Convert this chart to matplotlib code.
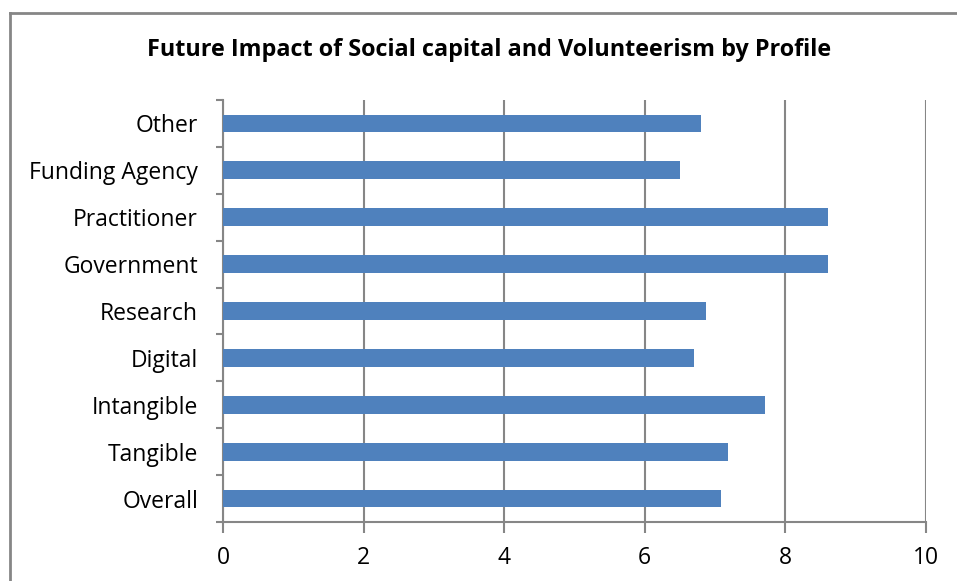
import matplotlib
matplotlib.use("Agg")
import matplotlib.pyplot as plt
from matplotlib.lines import Line2D
import numpy as np

# Data (bottom to top, as drawn)
categories = ["Overall", "Tangible", "Intangible", "Digital", "Research",
              "Government", "Practitioner", "Funding Agency", "Other"]
values = [7.08, 7.19, 7.71, 6.70, 6.87, 8.60, 8.60, 6.50, 6.80]
xticks = [0, 2, 4, 6, 8, 10]

plt.rcParams['font.family'] = ['Open Sans', 'DejaVu Sans']

W, H = 957, 581
fig = plt.figure(figsize=(W / 100, H / 100), dpi=100)
ax = fig.add_axes([223 / W, 1 - 522 / H, (926 - 223) / W, (522 - 100) / H])

grey = "#868686"
bar_color = "#4f81bd"

y = np.arange(len(categories))
ax.barh(y, values, height=0.38, color=bar_color, zorder=3)

ax.set_xlim(0, 10)
ax.set_ylim(-0.5, len(categories) - 0.5)
ax.set_xticks(xticks)
ax.set_xticklabels([str(t) for t in xticks])
ax.xaxis.grid(True, color=grey, linewidth=1.5, zorder=0)

# category labels in the middle, ticks on boundaries
ax.set_yticks(y)
ax.set_yticklabels(categories, va="center_baseline")
ax.set_yticks(np.arange(-0.5, len(categories)), minor=True)
ax.tick_params(axis="y", which="major", length=0, pad=18, labelsize=16.5)
ax.tick_params(axis="y", which="minor", length=5, width=1.5, color=grey)
ax.tick_params(axis="x", length=8, width=1.5, color=grey, labelsize=16.5, pad=9)

for s in ["top", "right"]:
    ax.spines[s].set_visible(False)
for s in ["left", "bottom"]:
    ax.spines[s].set_color(grey)
    ax.spines[s].set_linewidth(1.5)

fig.text(489 / W, 1 - 50 / H,
         "Future Impact of Social capital and Volunteerism by Profile",
         ha="center", va="center", fontsize=16.8, fontweight="bold")

# outer chart border (left and top only visible)
fig.add_artist(Line2D([9.5 / W, 9.5 / W], [0, 1 - 13 / H], color=grey, linewidth=2,
                      transform=fig.transFigure))
fig.add_artist(Line2D([9.5 / W, 1], [1 - 13 / H, 1 - 13 / H], color=grey, linewidth=2,
                      transform=fig.transFigure))

fig.savefig("out.png", dpi=100)
